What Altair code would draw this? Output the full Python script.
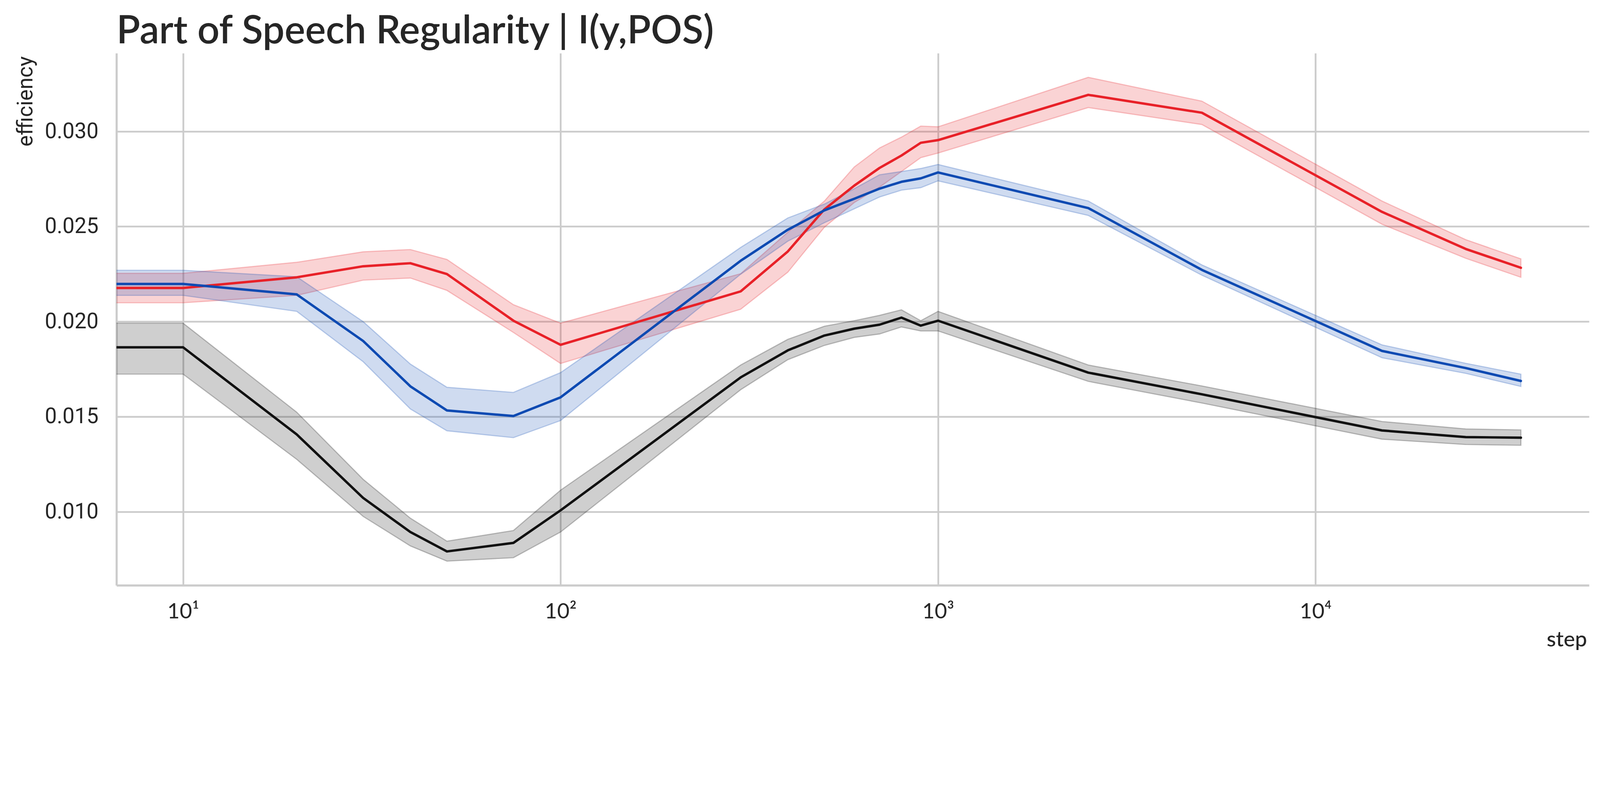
import altair as alt
import pandas as pd

# ---- data ----
# step 0 is drawn (as matplotlib does on a log axis) far to the left, clipped at the axis edge
steps = [0, 10, 20, 30, 40, 50, 75, 100, 300, 400, 500, 600, 700, 800, 900,
         1000, 2500, 5000, 15000, 25000, 35000]

red_mean = [0.02177, 0.02177, 0.02233, 0.02291, 0.02307, 0.02250, 0.02005, 0.01878,
            0.02159, 0.02369, 0.02590, 0.02715, 0.02808, 0.02873, 0.02940,
            0.02954, 0.03192, 0.03098, 0.02577, 0.02382, 0.02283]
red_low = [0.02099, 0.02099, 0.02138, 0.02218, 0.02229, 0.02164, 0.01943, 0.01780,
           0.02065, 0.02260, 0.02496, 0.02626, 0.02707, 0.02789, 0.02862,
           0.02886, 0.03125, 0.03036, 0.02512, 0.02333, 0.02233]
red_high = [0.02254, 0.02254, 0.02312, 0.02367, 0.02379, 0.02327, 0.02089, 0.01992,
            0.02252, 0.02470, 0.02634, 0.02813, 0.02913, 0.02970, 0.03028,
            0.03024, 0.03284, 0.03159, 0.02634, 0.02431, 0.02330]

blue_mean = [0.02198, 0.02198, 0.02143, 0.01898, 0.01660, 0.01533, 0.01504, 0.01602,
             0.02320, 0.02483, 0.02585, 0.02646, 0.02699, 0.02735, 0.02753,
             0.02784, 0.02597, 0.02272, 0.01846, 0.01756, 0.01688]
blue_low = [0.02138, 0.02138, 0.02054, 0.01789, 0.01541, 0.01426, 0.01390, 0.01480,
            0.02249, 0.02423, 0.02520, 0.02593, 0.02655, 0.02691, 0.02704,
            0.02740, 0.02558, 0.02244, 0.01810, 0.01728, 0.01659]
blue_high = [0.02270, 0.02270, 0.02236, 0.02000, 0.01777, 0.01655, 0.01628, 0.01732,
             0.02390, 0.02545, 0.02618, 0.02699, 0.02772, 0.02789, 0.02805,
             0.02826, 0.02634, 0.02298, 0.01878, 0.01781, 0.01724]

black_mean = [0.01865, 0.01865, 0.01407, 0.01073, 0.00894, 0.00792, 0.00837, 0.01008,
              0.01707, 0.01849, 0.01927, 0.01963, 0.01984, 0.02021, 0.01979,
              0.02005, 0.01732, 0.01618, 0.01428, 0.01393, 0.01390]
black_low = [0.01724, 0.01724, 0.01276, 0.00976, 0.00821, 0.00741, 0.00759, 0.00894,
             0.01642, 0.01800, 0.01875, 0.01917, 0.01935, 0.01972, 0.01951,
             0.01951, 0.01686, 0.01572, 0.01382, 0.01354, 0.01350]
black_high = [0.01992, 0.01992, 0.01524, 0.01171, 0.00967, 0.00846, 0.00902, 0.01114,
              0.01772, 0.01907, 0.01976, 0.02005, 0.02033, 0.02062, 0.02005,
              0.02054, 0.01772, 0.01662, 0.01475, 0.01436, 0.01431]

series_names = ["black", "red", "blue"]
series_colors = {"black": "#111111", "red": "#e82128", "blue": "#0e4ab2"}
series_data = {
    "black": (black_mean, black_low, black_high),
    "red": (red_mean, red_low, red_high),
    "blue": (blue_mean, blue_low, blue_high),
}

x_ticks = [10, 100, 1000, 10000]
y_ticks = [0.010, 0.015, 0.020, 0.025, 0.030]
title_text = "Part of Speech Regularity | I(y,POS)"

# ---- build tables ----
def frame(name):
    mean, low, high = series_data[name]
    plot_step = [s if s > 0 else 1e-3 for s in steps]  # non-positive step clipped like a log axis
    return pd.DataFrame({"step": plot_step, "mean": mean, "low": low, "high": high})

TXT = "#262626"
GRID = "#cccccc"

xscale = alt.Scale(type="log", domain=[6.661, 53060], nice=False)
yscale = alt.Scale(domain=[0.00614, 0.03411], nice=False, zero=False)

xaxis = alt.Axis(
    values=x_ticks,
    labelExpr="datum.value == 10 ? '10\u00b9' : datum.value == 100 ? '10\u00b2' : datum.value == 1000 ? '10\u00b3' : '10\u2074'",
    grid=True, gridColor=GRID, gridWidth=5.5,
    domain=True, domainColor=GRID, domainWidth=6.5,
    ticks=False, labelFlush=False, labelOverlap=False,
    labelFont="Lato", labelFontSize=66, labelColor=TXT, labelPadding=50,
    titleFont="Lato", titleFontSize=66, titleColor=TXT, titleFontWeight=500,
    titleAlign="right", titleBaseline="alphabetic", titleX=4540, titleY=188,
)
yaxis = alt.Axis(
    values=y_ticks, format=".3f",
    grid=True, gridColor=GRID, gridWidth=5.5,
    domain=True, domainColor=GRID, domainWidth=6.5,
    ticks=False, labelOverlap=False,
    labelFont="Roboto", labelFontSize=66, labelColor=TXT, labelPadding=56,
    titleFont="Roboto", titleFontSize=66, titleColor=TXT, titleFontWeight="normal",
    titleAngle=270, titleAlign="right", titleBaseline="alphabetic",
    titleX=-260, titleY=9,
)

X = alt.X("step:Q", scale=xscale, axis=xaxis, title="step")

bands = []
lines = []
for name in series_names:
    df = frame(name)
    c = series_colors[name]
    bands.append(
        alt.Chart(df).mark_area(
            color=c, fillOpacity=0.2, stroke=c, strokeOpacity=0.25, strokeWidth=3.5, clip=True
        ).encode(
            x=X,
            y=alt.Y("low:Q", scale=yscale, axis=yaxis, title="efficiency"),
            y2="high:Q",
        )
    )
    lines.append(
        alt.Chart(df).mark_line(
            color=c, strokeWidth=7.5, clip=True, strokeCap="round", strokeJoin="round"
        ).encode(
            x=X,
            y=alt.Y("mean:Q", scale=yscale, axis=yaxis, title="efficiency"),
        )
    )

chart = alt.layer(*bands, *lines).properties(
    width=4547,
    height=1644,
    title=alt.TitleParams(
        text=title_text, anchor="start", frame="group",
        font="Lato", fontSize=120, fontWeight=600, color=TXT,
        baseline="alphabetic", offset=-89,
    ),
    padding={"left": 350, "top": -19, "right": 24, "bottom": 60},
    autosize=alt.AutoSizeParams(type="none"),
    background="white",
).configure_view(stroke="transparent", fill="white")

chart.save("out.html", embed_options={"renderer": "svg", "actions": False})
